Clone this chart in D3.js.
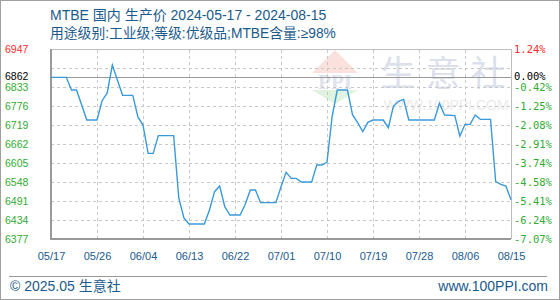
<!DOCTYPE html>
<html>
<head>
<meta charset="utf-8">
<script src="https://cdn.jsdelivr.net/npm/d3@7/dist/d3.min.js"></script>
<style>
body { margin: 0; background: #fff; }
svg { display: block; font-family: "Liberation Sans", "Noto Sans CJK SC", sans-serif; }
</style>
</head>
<body>
<svg id="chart" width="560" height="300"></svg>
<script>
// price vertices
const dates = [
    '2024-05-17', '2024-05-20', '2024-05-21', '2024-05-22', '2024-05-24', '2024-05-26', '2024-05-27', '2024-05-28',
    '2024-05-29', '2024-05-31', '2024-06-02', '2024-06-03', '2024-06-04', '2024-06-05', '2024-06-06', '2024-06-07',
    '2024-06-10', '2024-06-11', '2024-06-12', '2024-06-13', '2024-06-16', '2024-06-17', '2024-06-18', '2024-06-19',
    '2024-06-20', '2024-06-21', '2024-06-23', '2024-06-24', '2024-06-25', '2024-06-26', '2024-06-27', '2024-06-30',
    '2024-07-01', '2024-07-02', '2024-07-03', '2024-07-04', '2024-07-05', '2024-07-07', '2024-07-08', '2024-07-09',
    '2024-07-10', '2024-07-11', '2024-07-12', '2024-07-14', '2024-07-15', '2024-07-16', '2024-07-17', '2024-07-18',
    '2024-07-19', '2024-07-21', '2024-07-22', '2024-07-23', '2024-07-24', '2024-07-25', '2024-07-26', '2024-07-31',
    '2024-08-01', '2024-08-02', '2024-08-04', '2024-08-05', '2024-08-06', '2024-08-07', '2024-08-08', '2024-08-09',
    '2024-08-11', '2024-08-12', '2024-08-13', '2024-08-14', '2024-08-15'
];
const prices = [
    6862, 6862, 6824, 6824, 6734, 6734, 6792, 6815,
    6899, 6808, 6808, 6743, 6719, 6634, 6634, 6687,
    6687, 6500, 6440, 6422, 6422, 6464, 6519, 6536,
    6474, 6449, 6449, 6481, 6524, 6524, 6486, 6486,
    6534, 6577, 6559, 6559, 6548, 6548, 6599, 6599,
    6607, 6744, 6824, 6824, 6749, 6726, 6699, 6727,
    6734, 6734, 6711, 6776, 6790, 6796, 6734, 6734,
    6784, 6749, 6747, 6686, 6721, 6721, 6749, 6736,
    6736, 6549, 6541, 6536, 6495
];

const xTicks = ['2024-05-17', '2024-05-26', '2024-06-04', '2024-06-13', '2024-06-22', '2024-07-01',
    '2024-07-10', '2024-07-19', '2024-07-28', '2024-08-06', '2024-08-15'];
const yGrid = [6377, 6434, 6491, 6548, 6605, 6662, 6719, 6776, 6833, 6890, 6947];
const yLabels = [6377, 6434, 6491, 6548, 6605, 6662, 6719, 6776, 6833, 6862, 6947];
const pctLabels = ['-7.07%', '-6.24%', '-5.41%', '-4.58%', '-3.74%', '-2.91%', '-2.08%', '-1.25%', '-0.42%', '0.00%', '1.24%'];
const basePrice = 6862;

const width = 560;
const height = 300;
const plotLeft = 51, plotRight = 511, plotTop = 49, plotBottom = 239;

const blue = '#1a5a8c';
const red = '#ff2a2a';
const green = '#33aa33';

const parse = d3.utcParse('%Y-%m-%d');
const data = dates.map((d, i) => ({ date: parse(d), value: prices[i] }));

const svg = d3.select('#chart');

svg.append('rect')
    .attr('x', 0.5).attr('y', 0.5)
    .attr('width', width - 1).attr('height', height - 1)
    .attr('fill', '#fff')
    .attr('stroke', '#a0a0a0');

const xScale = d3.scaleUtc()
    .domain([parse('2024-05-17'), parse('2024-08-15')])
    .range([plotLeft, plotRight]);

const yScale = d3.scaleLinear()
    .domain([6377, 6947])
    .range([plotBottom, plotTop]);

// watermark
const wm = svg.append('g').attr('class', 'watermark');
wm.append('path')
    .attr('d', 'M335,50 L358,73 L312,73 Z')
    .attr('fill', '#fbe1dd');
wm.append('text')
    .attr('x', 335).attr('y', 89)
    .attr('text-anchor', 'middle')
    .attr('font-family', '"Liberation Serif", serif')
    .attr('font-size', 21)
    .attr('font-weight', 'bold')
    .attr('fill', '#dfe3ee')
    .text('PPI');
wm.append('path')
    .attr('d', 'M312,90 L358,90 L335,104 Z')
    .attr('fill', '#e0f2e0');
wm.append('text')
    .attr('x', 448).attr('y', 86)
    .attr('text-anchor', 'middle')
    .attr('font-family', '"Noto Sans CJK SC", sans-serif')
    .attr('font-size', 35)
    .attr('letter-spacing', 10)
    .attr('fill', '#dbe0eb')
    .text('生意社');
wm.append('text')
    .attr('x', 446).attr('y', 110)
    .attr('text-anchor', 'middle')
    .attr('font-size', 14)
    .attr('fill', '#ebebeb')
    .text('WWW.100PPI.COM');

// grid
const yAxisGrid = d3.axisLeft(yScale)
    .tickValues(yGrid)
    .tickSize(-(plotRight - plotLeft))
    .tickFormat('');
svg.append('g')
    .attr('transform', `translate(${plotLeft},0)`)
    .call(yAxisGrid)
    .call(g => g.select('.domain').remove())
    .call(g => g.selectAll('line')
        .attr('stroke', '#c8c8c8')
        .attr('stroke-dasharray', '3,3')
        .attr('shape-rendering', 'crispEdges'));

const xAxisGrid = d3.axisBottom(xScale)
    .tickValues(xTicks.map(parse))
    .tickSize(-(plotBottom - plotTop))
    .tickFormat('');
svg.append('g')
    .attr('transform', `translate(0,${plotBottom})`)
    .call(xAxisGrid)
    .call(g => g.select('.domain').remove())
    .call(g => g.selectAll('line')
        .attr('stroke', '#c8c8c8')
        .attr('stroke-dasharray', '3,3')
        .attr('shape-rendering', 'crispEdges'));

// base line
svg.append('line')
    .attr('x1', plotLeft).attr('x2', plotRight)
    .attr('y1', yScale(basePrice)).attr('y2', yScale(basePrice))
    .attr('stroke', '#999')
    .attr('stroke-width', 1.2)
    .attr('shape-rendering', 'crispEdges');

// frame
svg.append('path')
    .attr('d', `M${plotLeft},${plotTop}H${plotRight}V${plotBottom}`)
    .attr('fill', 'none')
    .attr('stroke', '#bdbdbd')
    .attr('shape-rendering', 'crispEdges');
svg.append('path')
    .attr('d', `M${plotLeft},${plotTop}V${plotBottom}H${plotRight}`)
    .attr('fill', 'none')
    .attr('stroke', '#999')
    .attr('stroke-width', 1.5)
    .attr('shape-rendering', 'crispEdges');

// price line
const line = d3.line()
    .x(d => xScale(d.date))
    .y(d => yScale(d.value));

svg.append('path')
    .datum(data)
    .attr('d', line)
    .attr('fill', 'none')
    .attr('stroke', '#3a9ad9')
    .attr('stroke-width', 1.4);

// left labels
const labelColor = v => v > basePrice ? red : (v === basePrice ? '#000' : green);
const labelShift = v => v === basePrice ? -1 : (v === 6833 ? 0.5 : 0);
svg.append('g')
    .selectAll('text')
    .data(yLabels)
    .enter()
    .append('text')
    .attr('x', 5)
    .attr('y', d => yScale(d) + labelShift(d))
    .attr('dy', '0.36em')
    .attr('font-size', 10.5)
    .attr('fill', labelColor)
    .text(d => d);

// right labels
svg.append('g')
    .selectAll('text')
    .data(yLabels)
    .enter()
    .append('text')
    .attr('x', 514)
    .attr('y', d => yScale(d) + labelShift(d))
    .attr('dy', '0.36em')
    .attr('font-family', '"DejaVu Sans Mono", monospace')
    .attr('font-size', 10.5)
    .attr('fill', labelColor)
    .text((d, i) => pctLabels[i]);

// x labels
const xAxis = d3.axisBottom(xScale)
    .tickValues(xTicks.map(parse))
    .tickSize(0)
    .tickPadding(13)
    .tickFormat(d3.utcFormat('%m/%d'));
svg.append('g')
    .attr('transform', `translate(0,${plotBottom})`)
    .call(xAxis)
    .call(g => g.select('.domain').remove())
    .call(g => g.selectAll('text')
        .attr('font-family', '"Liberation Sans", sans-serif')
        .attr('font-size', 11)
        .attr('fill', blue));

// titles
svg.append('text')
    .attr('x', 50).attr('y', 20)
    .attr('font-size', 14)
    .attr('fill', blue)
    .text('MTBE 国内 生产价 2024-05-17 - 2024-08-15');
svg.append('text')
    .attr('x', 50).attr('y', 38)
    .attr('font-size', 13.8)
    .attr('fill', blue)
    .text('用途级别:工业级;等级:优级品;MTBE含量:≥98%');

// footer
svg.append('line')
    .attr('x1', 9).attr('x2', 547)
    .attr('y1', 276).attr('y2', 276)
    .attr('stroke', '#999')
    .attr('shape-rendering', 'crispEdges');
svg.append('text')
    .attr('x', 10).attr('y', 291)
    .attr('font-size', 14)
    .attr('fill', blue)
    .text('© 2025.05 生意社');
svg.append('text')
    .attr('x', 548).attr('y', 291)
    .attr('text-anchor', 'end')
    .attr('font-size', 14)
    .attr('fill', blue)
    .text('www.100PPI.com');
</script>
</body>
</html>
